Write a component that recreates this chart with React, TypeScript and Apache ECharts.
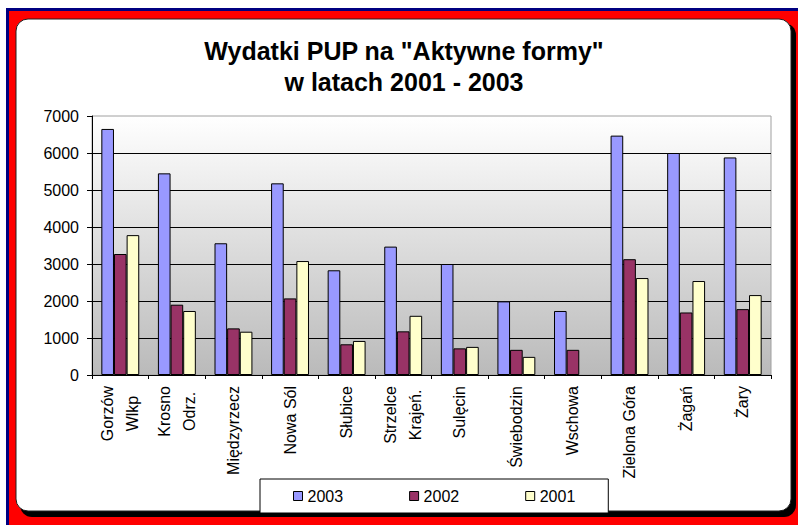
import React, { useEffect, useRef } from "react";
import * as echarts from "echarts";

const titleText = 'Wydatki PUP na "Aktywne formy"\nw latach 2001 - 2003';
const categories = [
  "Gorzów\nWlkp",
  "Krosno\nOdrz.",
  "Międzyrzecz",
  "Nowa Sól",
  "Słubice",
  "Strzelce\nKrajeń.",
  "Sulęcin",
  "Świebodzin",
  "Wschowa",
  "Zielona Góra",
  "Żagań",
  "Żary",
];
const seriesNames = ["2003", "2002", "2001"];
const values2003 = [6650, 5450, 3560, 5180, 2830, 3470, 3000, 1990, 1730, 6470, 6000, 5880];
const values2002 = [3270, 1900, 1260, 2070, 830, 1180, 720, 680, 680, 3130, 1690, 1780];
const values2001 = [3780, 1730, 1170, 3080, 920, 1600, 760, 490, null, 2620, 2540, 2160];
const seriesColors = ["#9999FF", "#993366", "#FFFFCC"];
const yMin = 0;
const yMax = 7000;
const yInterval = 1000;

const FONT = '"Liberation Sans", Arial, sans-serif';

export default function App() {
  const ref = useRef<HTMLDivElement>(null);
  useEffect(() => {
    if (!ref.current) return;
    const chart = echarts.init(ref.current, undefined, { renderer: "svg" });
    const allValues = [values2003, values2002, values2001];
    chart.setOption({
      animation: false,
      backgroundColor: "#ffffff",
      graphic: [
        { type: "rect", z: -10, silent: true, shape: { x: 6, y: 8, width: 792, height: 517 }, style: { fill: "#000080" } },
        { type: "rect", z: -10, silent: true, shape: { x: 9, y: 11, width: 789, height: 514 }, style: { fill: "#ff0000" } },
        { type: "rect", z: -10, silent: true, shape: { x: 20, y: 23, width: 776, height: 494, r: 12 }, style: { fill: "#000000" } },
        { type: "rect", z: -10, silent: true, shape: { x: 16, y: 19, width: 775, height: 492, r: 12 }, style: { fill: "#ffffff", stroke: "#202020", lineWidth: 1 } },
      ],
      title: {
        text: titleText,
        left: 404,
        top: 35,
        textAlign: "center",
        padding: 0,
        textStyle: {
          fontFamily: FONT,
          fontSize: 25,
          fontWeight: "bold",
          color: "#000",
          lineHeight: 31,
        },
      },
      legend: {
        left: 260,
        top: 479,
        padding: [9, 33, 9, 33],
        itemGap: 66,
        itemWidth: 9,
        itemHeight: 9,
        icon: "rect",
        backgroundColor: "#ffffff",
        borderColor: "#000",
        borderWidth: 1,
        borderRadius: 0,
        itemStyle: { borderColor: "#000", borderWidth: 1 },
        textStyle: { fontFamily: FONT, fontSize: 16, color: "#000" },
        data: seriesNames,
      },
      grid: {
        left: 92,
        right: 27,
        top: 116,
        bottom: 150,
        show: true,
        borderColor: "#a0a0a0",
        borderWidth: 1,
        backgroundColor: new echarts.graphic.LinearGradient(0, 0, 0, 1, [
          { offset: 0, color: "#ffffff" },
          { offset: 1, color: "#bababa" },
        ]),
      },
      xAxis: {
        type: "category",
        data: categories,
        axisLine: { show: true, lineStyle: { color: "#000", width: 1 } },
        axisTick: { show: true, length: 4, lineStyle: { color: "#000" } },
        axisLabel: {
          interval: 0,
          rotate: 90,
          margin: 11,
          fontFamily: FONT,
          fontSize: 16,
          lineHeight: 25,
          color: "#000",
          formatter: (value: string) =>
            value
              .split("\n")
              .map((line) => `{c|${line}}`)
              .join("\n"),
          rich: {
            c: {
              align: "center",
              fontFamily: FONT,
              fontSize: 16,
              lineHeight: 25,
              color: "#000",
            },
          },
        },
        splitLine: { show: false },
      },
      yAxis: {
        type: "value",
        min: yMin,
        max: yMax,
        interval: yInterval,
        axisLine: { show: true, lineStyle: { color: "#000", width: 1 } },
        axisTick: { show: true, length: 5, lineStyle: { color: "#000" } },
        axisLabel: {
          margin: 13,
          fontFamily: FONT,
          fontSize: 16,
          color: "#000",
          formatter: (v: number) => String(v),
        },
        splitLine: { show: true, showMaxLine: false, lineStyle: { color: "#000", width: 1 } },
      },
      series: seriesNames.map((name, i) => ({
        name,
        type: "bar",
        data: allValues[i],
        barGap: "0%",
        barCategoryGap: "33%",
        itemStyle: { color: seriesColors[i], borderColor: "#000", borderWidth: 1 },
      })),
    });
    return () => chart.dispose();
  }, []);
  return (
    <div
      ref={ref}
      style={{ position: "absolute", left: 0, top: 0, width: 798, height: 525 }}
    />
  );
}
